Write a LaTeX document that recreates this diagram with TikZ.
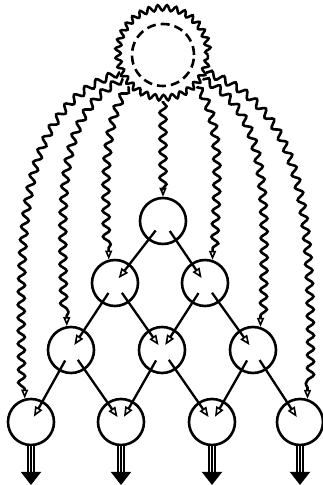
\documentclass[tikz,border=0pt]{standalone}
\usetikzlibrary{arrows.meta,decorations.pathmorphing}
\tikzset{
  unit/.style={circle, draw, line width=2.6pt, minimum size=46pt, inner sep=0pt},
  sun/.style={circle, draw, line width=2.5pt, minimum size=90pt, inner sep=0pt,
    decorate, decoration={snake, amplitude=2.8pt, segment length=8.836pt}},
  core/.style={circle, draw, line width=2.6pt, minimum size=62pt, inner sep=0pt,
    dash pattern=on 9pt off 5pt},
  link/.style={line width=2.3pt, shorten <=12pt, shorten >=6pt,
    -{Triangle[open, length=10pt, width=8pt, line width=1.6pt]}},
  wave/.style={line width=2.6pt, decorate,
    decoration={snake, amplitude=3.5pt, segment length=13pt, pre length=1pt, post length=8pt},
    -{Triangle[open, length=9pt, width=7pt, line width=1.6pt]}},
  outflow/.style={preaction={draw, line width=1.5pt, double distance=4.4pt, shorten >=12pt},
    postaction={draw, line width=1.5pt, -{Triangle[length=13pt, width=20pt]}}}
}

\begin{document}
\begin{tikzpicture}[x=1pt,y=1pt]
  \useasboundingbox (0,0) rectangle (323,485);
  \node[sun] (top) at (163,430) {};
  \node[core] (core) at (top) {};
  \node[unit] (n11) at (163,264) {};
  \node[unit] (n21) at (115,202) {};
  \node[unit] (n22) at (205,202) {};
  \node[unit] (n31) at (71,135) {};
  \node[unit] (n32) at (162,135) {};
  \node[unit] (n33) at (253,135) {};
  \node[unit] (n41) at (31,63) {};
  \node[unit] (n42) at (121,63) {};
  \node[unit] (n43) at (212,63) {};
  \node[unit] (n44) at (300,63) {};
  % layer to layer
  \foreach \a/\b in {n11/n21,n11/n22,n21/n31,n21/n32,n22/n32,n22/n33,
                     n31/n41,n31/n42,n32/n42,n32/n43,n33/n43,n33/n44}
    \draw[link] (\a.center) -- (\b.center);
  % waves from the source
  \draw[wave] (top.south) -- (n11.north);
  \draw[wave] (top.202) .. controls +(200:115) and +(90:150) .. (n41.105);
  \draw[wave] (top.211) .. controls +(208:80) and +(90:110) .. (n31.100);
  \draw[wave] (top.223) .. controls +(232:45) and +(90:60) .. (n21.105);
  \draw[wave] (top.317) .. controls +(308:45) and +(90:60) .. (n22.72);
  \draw[wave] (top.329) .. controls +(332:80) and +(90:110) .. (n33.72);
  \draw[wave] (top.338) .. controls +(340:115) and +(90:150) .. (n44.72);
  % outputs
  \foreach \n in {1,...,4} {
    \coordinate (o\n) at (n4\n.south |- 0,0);
    \path[outflow] (n4\n.south) -- (o\n);
  }
\end{tikzpicture}
\end{document}
